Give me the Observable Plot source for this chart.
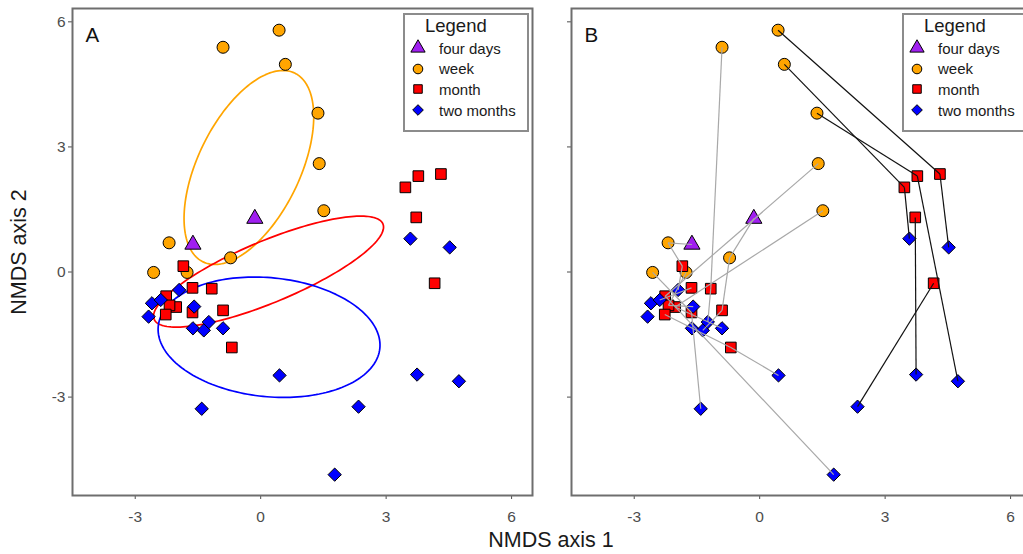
<!DOCTYPE html>
<html><head><meta charset="utf-8">
<script src="https://cdn.jsdelivr.net/npm/d3@7"></script>
<script src="https://cdn.jsdelivr.net/npm/@observablehq/plot@0.6"></script>
<style>
html,body{margin:0;padding:0;background:#fff;overflow:hidden;}
#wrap{position:relative;width:1023px;height:554px;overflow:hidden;font-family:"Liberation Sans",Arial,Helvetica,sans-serif;color:#1a1a1a;}
.panel{position:absolute;top:0;}
.legend{position:absolute;top:13px;width:126px;height:119px;box-sizing:border-box;border:2px solid #8c8c8c;background:#fff;}
.legend .ttl{position:absolute;left:20px;top:2px;font-size:18.5px;line-height:18.5px;white-space:nowrap;}
.legend .row{position:absolute;left:0;height:0;}
.legend .row svg{position:absolute;left:3px;top:-10px;overflow:visible;}
.legend .row span{position:absolute;left:34px;top:-7.5px;font-size:15px;line-height:15px;white-space:nowrap;}
.atitle{position:absolute;font-size:21.5px;line-height:21.5px;white-space:nowrap;}
</style></head><body><div id="wrap"></div>
<script>
// ---------------- data ----------------
const groups = ["four days", "week", "month", "two months"];
const groupColors = ["#A020F0", "#FFA500", "#FF0000", "#0000FF"];
const groupSymbols = ["triangle", "circle", "square", "diamond2"];
const panelLabels = ["A", "B"];
const xTicks = [-3, 0, 3, 6];
const yTicks = [-3, 0, 3, 6];

const fourDaysX = [-0.14, -1.62];
const fourDaysY = [1.28, 0.66];
const weekX = [0.44, 0.59, 1.37, -0.90, 1.40, 1.51, -2.19, -2.56, -1.76, -0.72];
const weekY = [5.80, 4.98, 3.81, 5.39, 2.60, 1.47, 0.70, -0.01, -0.01, 0.34];
const monthX = [4.31, 3.46, 3.77, 3.72, 4.16, -1.85, -1.63, -1.17, -2.26, -2.02, -2.18, -2.27, -1.63, -0.90, -0.69];
const monthY = [2.35, 2.03, 2.30, 1.31, -0.27, 0.14, -0.38, -0.40, -0.58, -0.84, -0.80, -1.02, -0.97, -0.92, -1.81];
const twoMonthsX = [4.52, 3.58, 4.74, 3.74, 2.34, -2.60, -2.39, -2.68, -1.95, -1.59, -1.62, -1.36, -1.24, -0.90, 0.45, -1.41, 1.77];
const twoMonthsY = [0.59, 0.80, -2.62, -2.46, -3.23, -0.75, -0.67, -1.07, -0.43, -0.83, -1.35, -1.40, -1.20, -1.35, -2.48, -3.28, -4.86];

// trajectories in panel B (point ids: F = four days, W = week, M = month, T = two months)
const blackPaths = [["W1","M1","T1"], ["W2","M2","T2"], ["W3","M3","T3"], ["M4","T4"], ["M5","T5"]];
const grayPaths = [["W4","M8","T13"], ["F1","W10","M14","T12"], ["W5","M9","T17"], ["W6","M10","T14"],
  ["F2","W7","M6","T9"], ["W8","M13","T16"], ["W9","M11","T10"], ["M12","M15","T15"], ["M7","T7"]];

// ---------------- build tables ----------------
function mk(prefix, gi, xs, ys) {
  return xs.map((x, i) => ({id: prefix + (i + 1), group: groups[gi], gi, x, y: ys[i]}));
}
const sets = [
  mk("F", 0, fourDaysX, fourDaysY),
  mk("W", 1, weekX, weekY),
  mk("M", 2, monthX, monthY),
  mk("T", 3, twoMonthsX, twoMonthsY)
];
const all = sets.flat();
const byId = new Map(all.map(d => [d.id, d]));
function segs(paths, kind) {
  const out = [];
  for (const p of paths) for (let i = 0; i < p.length - 1; i++) {
    const a = byId.get(p[i]), b = byId.get(p[i + 1]);
    out.push({x1: a.x, y1: a.y, x2: b.x, y2: b.y, kind});
  }
  return out;
}
const links = [...segs(grayPaths, "gray"), ...segs(blackPaths, "black")];

// 1-SD covariance ellipse of a group (like ordiellipse kind = "sd")
function ellipse(pts) {
  const mx = d3.mean(pts, d => d.x), my = d3.mean(pts, d => d.y), k = pts.length - 1;
  const sxx = d3.sum(pts, d => (d.x - mx) ** 2) / k;
  const syy = d3.sum(pts, d => (d.y - my) ** 2) / k;
  const sxy = d3.sum(pts, d => (d.x - mx) * (d.y - my)) / k;
  const tr = sxx + syy, det = sxx * syy - sxy * sxy;
  const disc = Math.sqrt(Math.max(0, tr * tr / 4 - det));
  const a = Math.sqrt(tr / 2 + disc), b = Math.sqrt(Math.max(0, tr / 2 - disc));
  const th = 0.5 * Math.atan2(2 * sxy, sxx - syy);
  return d3.range(0, 181).map(i => {
    const t = i / 180 * 2 * Math.PI;
    return {x: mx + a * Math.cos(t) * Math.cos(th) - b * Math.sin(t) * Math.sin(th),
            y: my + a * Math.cos(t) * Math.sin(th) + b * Math.sin(t) * Math.cos(th)};
  });
}

// ---------------- plotting ----------------
const W = 545, H = 530;
function dots() {
  return sets.map((s, gi) => Plot.dot(s, {x: "x", y: "y", r: 6, symbol: groupSymbols[gi],
    fill: groupColors[gi], stroke: "#000", strokeWidth: 1}));
}
function panel(which) {
  const marks = [Plot.frame({stroke: "#6e6e6e", strokeWidth: 2})];
  if (which === 0) {
    [1, 2, 3].forEach(gi => marks.push(Plot.line(ellipse(sets[gi]), {x: "x", y: "y",
      stroke: groupColors[gi], strokeWidth: 1.7})));
    marks.push(...dots());
  } else {
    marks.push(...dots());
    marks.push(Plot.link(links, {x1: "x1", y1: "y1", x2: "x2", y2: "y2",
      stroke: d => d.kind === "black" ? "#111" : "#a8a8a8", strokeWidth: 1.2}));
  }
  marks.push(Plot.text([panelLabels[which]], {frameAnchor: "top-left", dx: 13, dy: 33,
    text: d => d, textAnchor: "start", lineAnchor: "bottom", fontSize: 20.5, fill: "#111"}));
  return Plot.plot({
    width: W, height: H,
    marginLeft: 72, marginRight: 13, marginTop: 8, marginBottom: 35,
    style: {fontFamily: '"Liberation Sans", Arial, sans-serif', fontSize: "15.5px", color: "#4d4d4d", background: "transparent", overflow: "visible"},
    x: {domain: [-4.5, 6.5], ticks: xTicks, tickSize: 4, tickPadding: 11, label: null, tickFormat: d => String(d)},
    y: {domain: [-5.36, 6.32], ticks: yTicks, tickSize: 4, tickPadding: 3, label: null,
        tickFormat: which === 0 ? (d => String(d)) : (() => "")},
    marks
  });
}

const wrap = document.getElementById("wrap");
[0, 499].forEach((left, i) => {
  const p = panel(i);
  p.classList.add("panel");
  p.style.left = left + "px";
  wrap.appendChild(p);
  // legend
  const lg = document.createElement("div");
  lg.className = "legend";
  lg.style.left = (left + 403) + "px";
  const t = document.createElement("div");
  t.className = "ttl"; t.textContent = "Legend";
  lg.appendChild(t);
  const d3sym = [d3.symbolTriangle, d3.symbolCircle, d3.symbolSquare, d3.symbolDiamond2];
  const lr = [5.3, 4.8, 4.8, 4.8];
  groups.forEach((g, gi) => {
    const row = document.createElement("div");
    row.className = "row";
    row.style.top = (33 + gi * 20.7) + "px";
    const svg = d3.create("svg").attr("width", 20).attr("height", 20);
    svg.append("path").attr("transform", "translate(10,10)")
      .attr("d", d3.symbol(d3sym[gi], Math.PI * lr[gi] * lr[gi])())
      .attr("fill", groupColors[gi]).attr("stroke", "#000").attr("stroke-width", 1);
    row.appendChild(svg.node());
    const s = document.createElement("span");
    s.textContent = g;
    row.appendChild(s);
    lg.appendChild(row);
  });
  wrap.appendChild(lg);
});
const yt = document.createElement("div");
yt.className = "atitle"; yt.textContent = "NMDS axis 2";
yt.style.left = "20px"; yt.style.top = "252px";
yt.style.transform = "translate(-50%,-50%) rotate(-90deg)";
wrap.appendChild(yt);
const xt = document.createElement("div");
xt.className = "atitle"; xt.textContent = "NMDS axis 1";
xt.style.left = "551px"; xt.style.top = "541px";
xt.style.transform = "translate(-50%,-50%)";
wrap.appendChild(xt);
</script></body></html>
